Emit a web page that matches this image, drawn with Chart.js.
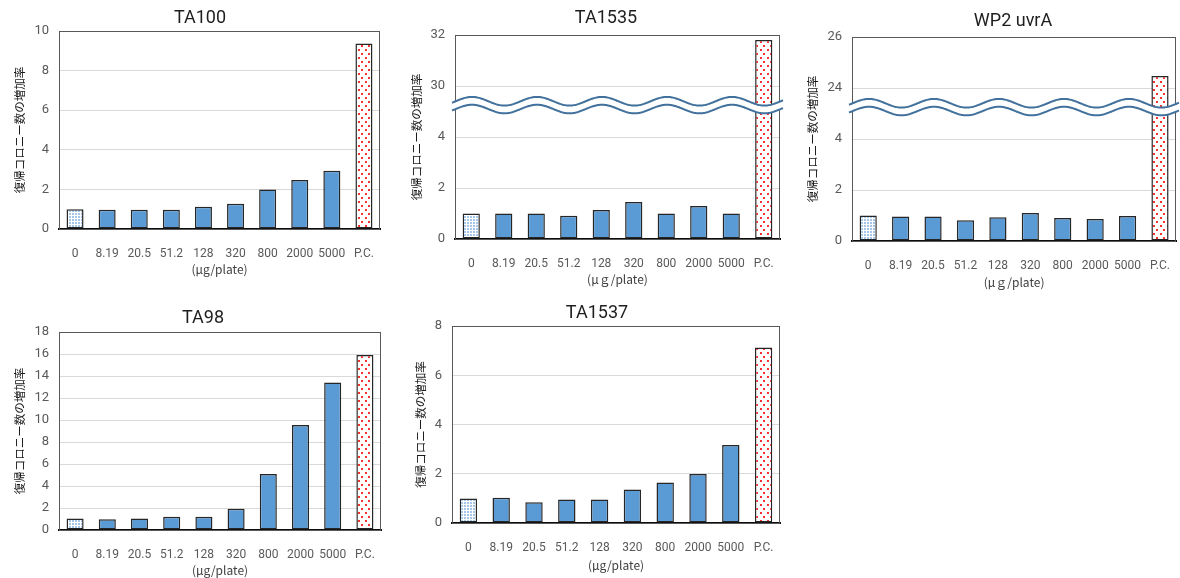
<!DOCTYPE html>
<html lang="ja">
<head>
  <meta charset="UTF-8">
  <title>復帰コロニー数の増加率</title>
  <script src="https://cdn.jsdelivr.net/npm/chart.js"></script>
  <style>
    body { margin: 0; background: #fff; }
    #wrap { position: relative; width: 1180px; height: 578px; overflow: hidden; }
    #wrap canvas { position: absolute; }
  </style>
</head>
<body>
  <div id="wrap">
    <canvas id="c1"></canvas>
    <canvas id="c2"></canvas>
    <canvas id="c3"></canvas>
    <canvas id="c4"></canvas>
    <canvas id="c5"></canvas>
  </div>

  <script>
    // doses (µg/plate), last one is the positive control
    const doses = ['0', '8.19', '20.5', '51.2', '128', '320', '800', '2000', '5000', 'P.C.'];

    const ta100  = [1.00, 0.97, 0.97, 0.97, 1.13, 1.27, 1.99, 2.48, 2.94, 9.37];
    const ta1535 = [1.00, 1.00, 1.00, 0.91, 1.14, 1.45, 1.00, 1.29, 1.00, 31.8];
    const wp2    = [1.00, 0.96, 0.96, 0.81, 0.93, 1.10, 0.90, 0.86, 0.98, 24.47];
    const ta98   = [1.04, 0.97, 1.04, 1.20, 1.20, 1.94, 5.09, 9.55, 13.42, 15.9];
    const ta1537 = [0.99, 1.03, 0.84, 0.95, 0.95, 1.36, 1.64, 1.99, 3.17, 7.13];

    // broken axes: 0,2,4 | 30,32  and 0,2,4 | 24,26
    const ta1535Ticks = ['0', '2', '4', '30', '32'];
    const wp2Ticks    = ['0', '2', '4', '24', '26'];

    const yTitle = '復帰コロニー数の増加率';

    function makePattern(kind) {
      const c = document.createElement('canvas');
      const g = c.getContext('2d');
      if (kind === 'control') {
        c.width = 3; c.height = 3;
        g.fillStyle = '#ffffff'; g.fillRect(0, 0, 3, 3);
        g.fillStyle = '#a7c7ea'; g.fillRect(0, 0, 2, 2);
      } else {
        c.width = 7; c.height = 8;
        g.fillStyle = '#ffffff'; g.fillRect(0, 0, 7, 8);
        g.fillStyle = '#ff3030';
        g.fillRect(1, 1, 2, 2);
        g.fillRect(4, 5, 2, 2);
      }
      return g.createPattern(c, 'repeat');
    }
    const ctrlFill = makePattern('control');
    const pcFill = makePattern('pc');

    const panel = {
      id: 'panel',
      beforeDatasetsDraw(chart) {
        const { ctx, chartArea: a } = chart;
        ctx.save();
        ctx.strokeStyle = '#595959';
        ctx.lineWidth = 1;
        ctx.strokeRect(Math.round(a.left) + 0.5, Math.round(a.top) + 0.5,
                       Math.round(a.right - a.left) - 1, Math.round(a.bottom - a.top));
        ctx.restore();
      },
      afterDatasetsDraw(chart, args, opts) {
        if (!opts.broken) return;
        const { ctx, chartArea: a } = chart;
        const yc = chart.scales.y.getPixelForValue(5.25);
        const x0 = a.left - 3, x1 = a.right + 3;
        const P = 65, A = 4.3, gap = 3.9;
        const f = x => -A * Math.cos(2 * Math.PI * (x - x0 - 20) / P);
        ctx.save();
        ctx.beginPath();
        for (let x = x0; x <= x1; x++) ctx.lineTo(x, yc - gap + f(x));
        for (let x = x1; x >= x0; x--) ctx.lineTo(x, yc + gap + f(x));
        ctx.closePath();
        ctx.fillStyle = '#ffffff';
        ctx.fill();
        ctx.strokeStyle = '#41719c';
        ctx.lineWidth = 2;
        [-gap, gap].forEach(d => {
          ctx.beginPath();
          for (let x = x0; x <= x1; x++) ctx.lineTo(x, yc + d + f(x));
          ctx.stroke();
        });
        ctx.restore();
      },
      afterDraw(chart, args, opts) {
        const ctx = chart.ctx;
        ctx.save();
        ctx.font = '18px Roboto';
        ctx.fillStyle = '#1e1e1e';
        ctx.textAlign = 'center';
        ctx.textBaseline = 'middle';
        ctx.fillText(opts.text, opts.x, opts.y);
        ctx.restore();
      }
    };

    function drawPanel(p) {
      const canvas = document.getElementById(p.id);
      const [bx, by, bw, bh] = p.box;
      const [pl, pt, pr, pb] = p.plot;
      canvas.style.left = bx + 'px';
      canvas.style.top = by + 'px';
      canvas.width = bw;
      canvas.height = bh;

      const broken = !!p.tickLabels;
      const shift = broken ? Number(p.tickLabels[3]) - 6 : 0;
      const data = p.values.map(v => (broken && v > 4) ? v - shift : v);

      new Chart(canvas, {
        type: 'bar',
        data: {
          labels: doses,
          datasets: [{
            data: data,
            backgroundColor: doses.map((d, i) => i === 0 ? ctrlFill : (i === doses.length - 1 ? pcFill : '#5b9bd5')),
            borderColor: '#262626',
            borderWidth: 1.5,
            borderSkipped: false,
            barPercentage: 0.53,
            categoryPercentage: 1
          }]
        },
        options: {
          responsive: false,
          animation: false,
          layout: { padding: { top: pt - by, right: bx + bw - pr, left: 0, bottom: 0 } },
          plugins: {
            legend: { display: false },
            tooltip: { enabled: false },
            panel: { text: p.title, x: p.titleXY[0] - bx, y: p.titleXY[1] - by, broken: broken }
          },
          scales: {
            x: {
              grid: { display: false },
              border: { color: '#0d0d0d', width: 2 },
              ticks: { color: '#595959', font: { family: 'Roboto', size: 12 }, padding: 10, maxRotation: 0 },
              title: {
                display: true, text: p.xTitle, color: '#404040',
                font: { family: "'Noto Sans CJK JP', 'Noto Sans'", size: 12 },
                padding: { top: 0, bottom: (by + bh) - p.xTitleY - 9.2 }
              },
              afterFit(s) { s.height = by + bh - pb; }
            },
            y: {
              min: 0,
              max: p.max,
              grid: { color: '#d9d9d9', drawTicks: false },
              border: { color: '#595959', width: 1 },
              ticks: {
                stepSize: 2, padding: 10, color: '#595959',
                font: { family: 'Roboto', size: 13 },
                callback: v => broken ? p.tickLabels[v / 2] : v
              },
              title: {
                display: true, text: yTitle, color: '#1a1a1a',
                font: { family: "'Noto Sans CJK JP'", size: 11.5 },
                padding: { top: p.yTitleX - bx - 6.9, bottom: 0 }
              },
              afterFit(s) { s.width = pl - bx; }
            }
          }
        },
        plugins: [panel]
      });
    }

    drawPanel({ id: 'c1', title: 'TA100', values: ta100, max: 10,
      box: [0, 0, 390, 290], plot: [59, 31, 380, 229], titleXY: [200, 18],
      yTitleX: 20, xTitleY: 267, xTitle: '(μg/plate)' });

    drawPanel({ id: 'c2', title: 'TA1535', values: ta1535, max: 8, tickLabels: ta1535Ticks,
      box: [395, 0, 395, 290], plot: [455, 35, 780, 239], titleXY: [606, 18],
      yTitleX: 417, xTitleY: 277, xTitle: '(μｇ/plate)' });

    drawPanel({ id: 'c3', title: 'WP2 uvrA', values: wp2, max: 8, tickLabels: wp2Ticks,
      box: [795, 0, 385, 290], plot: [852, 37, 1178, 241], titleXY: [1013, 21],
      yTitleX: 813, xTitleY: 280, xTitle: '(μｇ/plate)' });

    drawPanel({ id: 'c4', title: 'TA98', values: ta98, max: 18,
      box: [0, 295, 390, 283], plot: [59, 332, 381, 530], titleXY: [203, 318],
      yTitleX: 20, xTitleY: 568, xTitle: '(μg/plate)' });

    drawPanel({ id: 'c5', title: 'TA1537', values: ta1537, max: 8,
      box: [395, 295, 395, 283], plot: [452, 326, 780, 523], titleXY: [597, 313],
      yTitleX: 421, xTitleY: 563, xTitle: '(μg/plate)' });
  </script>
</body>
</html>
